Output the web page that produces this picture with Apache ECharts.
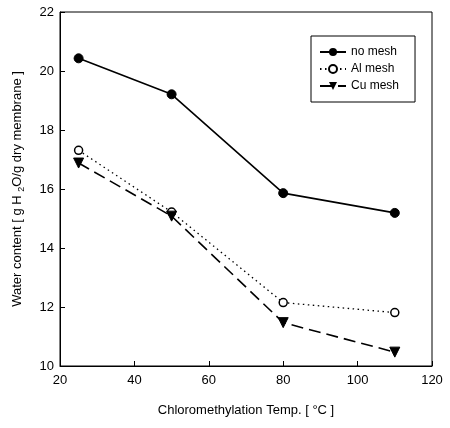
<!DOCTYPE html>
<html>
<head>
<meta charset="utf-8">
<script src="https://cdn.jsdelivr.net/npm/echarts@6/dist/echarts.min.js"></script>
<style>
  html, body { margin: 0; padding: 0; background: #fff; }
  #container { width: 450px; height: 428px; }
</style>
</head>
<body>
<div id="container"></div>
<script>
var temps = [25, 50, 80, 110];
var noMesh = [20.43, 19.21, 15.86, 15.19];
var alMesh = [17.31, 15.22, 12.15, 11.81];
var cuMesh = [16.88, 15.08, 11.47, 10.47];
var seriesNames = ['no mesh', 'Al mesh', 'Cu mesh'];

var container = document.getElementById('container');
var charts = echarts.init(container);

function pairs(xs, ys) {
    return xs.map(function (x, i) { return [x, ys[i]]; });
}

var font = 'Liberation Sans, Arial, sans-serif';

var option = {
    animation: false,
    backgroundColor: '#fff',
    textStyle: { fontFamily: font, color: '#000' },
    grid: {
        left: 60, right: 18, top: 12, bottom: 62,
        show: true, borderColor: '#000', borderWidth: 1
    },
    legend: {
        data: seriesNames,
        orient: 'vertical',
        left: 311, top: 36,
        padding: [10, 16, 10, 8],
        itemGap: 5,
        itemWidth: 26, itemHeight: 10,
        borderColor: '#000', borderWidth: 1,
        textStyle: { fontFamily: font, fontSize: 12, color: '#000' }
    },
    xAxis: {
        type: 'value', min: 20, max: 120, interval: 20,
        name: 'Chloromethylation Temp. [ °C ]',
        nameLocation: 'middle', nameGap: 38,
        nameTextStyle: { fontFamily: font, fontSize: 13, color: '#000' },
        axisLine: { lineStyle: { color: '#000', width: 1 } },
        axisTick: { inside: true, length: 5, lineStyle: { color: '#000' } },
        axisLabel: { fontFamily: font, fontSize: 13, color: '#000', margin: 8 },
        splitLine: { show: false }
    },
    yAxis: {
        type: 'value', min: 10, max: 22, interval: 2,
        name: '{t|Water content [ g H }{s|2}{t|O/g dry membrane ]}',
        nameLocation: 'middle', nameGap: 34,
        nameTextStyle: {
            fontFamily: font, fontSize: 13, color: '#000',
            rich: {
                t: { fontFamily: font, fontSize: 13, color: '#000' },
                s: { fontFamily: font, fontSize: 9, color: '#000', padding: [8, 0, 0, 0] }
            }
        },
        axisLine: { lineStyle: { color: '#000', width: 1 } },
        axisTick: { inside: true, length: 5, lineStyle: { color: '#000' } },
        axisLabel: { fontFamily: font, fontSize: 13, color: '#000', margin: 6 },
        splitLine: { show: false }
    },
    series: [
        {
            name: 'no mesh', type: 'line',
            data: pairs(temps, noMesh),
            symbol: 'circle', symbolSize: 9,
            itemStyle: { color: '#000', borderColor: '#000' },
            lineStyle: { color: '#000', width: 1.6, type: 'solid' }
        },
        {
            name: 'Al mesh', type: 'line',
            data: pairs(temps, alMesh),
            symbol: 'circle', symbolSize: 8,
            itemStyle: { color: '#fff', borderColor: '#000', borderWidth: 1.5 },
            lineStyle: { color: '#000', width: 1.3, type: [1.5, 3.5] }
        },
        {
            name: 'Cu mesh', type: 'line',
            data: pairs(temps, cuMesh),
            symbol: 'triangle', symbolRotate: 180, symbolSize: 10,
            itemStyle: { color: '#000', borderColor: '#000' },
            lineStyle: { color: '#000', width: 1.6, type: [12, 6] }
        }
    ]
};

charts.setOption(option, true);
</script>
</body>
</html>
